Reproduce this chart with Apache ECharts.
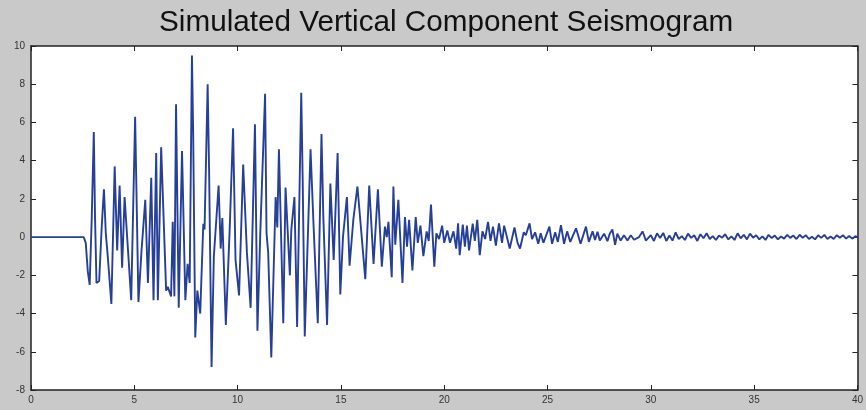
<!DOCTYPE html>
<html>
<head>
<meta charset="utf-8">
<script src="https://cdn.jsdelivr.net/npm/echarts@6/dist/echarts.min.js"></script>
<style>
  html, body { margin: 0; padding: 0; background: #c9c9c9; }
  #main { width: 866px; height: 410px; }
</style>
</head>
<body>
<div id="main"></div>
<script>
// seismogram: time (s) and amplitude at each turning point
const times = [
  0, 2.55, 2.65, 2.75, 2.84, 2.94, 3.04, 3.1, 3.17, 3.3, 3.42, 3.53, 3.62, 3.7, 3.89,
  4.05, 4.17, 4.29, 4.41, 4.53, 4.85, 5.04, 5.2, 5.35, 5.53, 5.66, 5.82, 5.93, 6.06, 6.14,
  6.3, 6.54, 6.62, 6.78, 6.86, 6.94, 7.02, 7.15, 7.31, 7.47, 7.58, 7.68, 7.79, 7.85, 7.95,
  8.05, 8.19, 8.34, 8.4, 8.55, 8.62, 8.74, 8.85, 9.08, 9.18, 9.26, 9.43, 9.62, 9.78, 9.9,
  10.07, 10.27, 10.45, 10.63, 10.84, 10.96, 11.1, 11.33, 11.4, 11.48, 11.63, 11.84, 11.92, 12.0, 12.21,
  12.32, 12.53, 12.6, 12.75, 12.88, 13.08, 13.15, 13.25, 13.53, 13.68, 13.88, 14.06, 14.15, 14.33, 14.49,
  14.65, 14.84, 14.97, 15.1, 15.29, 15.42, 15.6, 15.8, 16.18, 16.37, 16.58, 16.79, 16.98, 17.13, 17.22,
  17.3, 17.46, 17.54, 17.63, 17.78, 17.98, 18.1, 18.2, 18.3, 18.46, 18.62, 18.72, 18.85, 18.99, 19.15,
  19.25, 19.36, 19.52, 19.62, 19.75, 19.9, 20.0, 20.15, 20.28, 20.45, 20.58, 20.67, 20.75, 20.9, 21.0,
  21.1, 21.2, 21.38, 21.48, 21.6, 21.72, 21.85, 21.98, 22.12, 22.24, 22.36, 22.5, 22.65, 22.8, 22.9,
  23.17, 23.4, 23.55, 23.67, 23.85, 23.95, 24.13, 24.25, 24.4, 24.55, 24.67, 24.8, 25.09, 25.22, 25.37,
  25.5, 25.65, 25.8, 25.95, 26.1, 26.38, 26.6, 26.86, 27.0, 27.18, 27.3, 27.42, 27.53, 27.74, 27.9,
  28.01, 28.14, 28.27, 28.38, 28.54, 28.7, 28.87, 29.03, 29.19, 29.43, 29.6, 29.76, 30.0, 30.15, 30.3,
  30.45, 30.6, 30.75, 30.9, 31.05, 31.2, 31.35, 31.5, 31.65, 31.8, 31.95, 32.1, 32.25, 32.4, 32.55,
  32.7, 32.85, 33.0, 33.15, 33.3, 33.45, 33.6, 33.75, 33.9, 34.05, 34.2, 34.35, 34.5, 34.65, 34.8,
  34.95, 35.1, 35.25, 35.4, 35.55, 35.7, 35.85, 36.0, 36.15, 36.3, 36.45, 36.6, 36.75, 36.9, 37.05,
  37.2, 37.35, 37.5, 37.65, 37.8, 37.95, 38.1, 38.25, 38.4, 38.55, 38.7, 38.85, 39.0, 39.15, 39.3,
  39.45, 39.6, 39.75, 39.9, 40
];
const amplitudes = [
  0, 0, -0.3, -1.8, -2.5, 1.0, 5.5, 1.0, -2.4, -2.3, 0.5, 2.5, 0.2, -0.8, -3.5,
  3.7, -0.7, 2.7, -1.6, 2.1, -3.3, 6.3, -3.4, -0.7, 1.95, -2.4, 3.1, -3.3, 4.4, -3.3,
  4.7, -2.8, -2.6, -3.1, 0.8, -3.1, 6.95, -3.7, 4.5, -3.3, -1.4, -2.4, 9.5, 5.4, -5.25,
  -2.8, -4.0, 0.7, 0.4, 8.0, 3.5, -6.8, -1.0, 2.7, -0.6, 1.0, -4.6, 0.5, 5.7, -1.2,
  -3.05, 3.8, -0.8, -3.7, 5.9, -4.9, 0.3, 7.5, 0.2, -0.8, -6.3, 2.1, 0.5, 4.6, -4.5,
  2.6, -2.0, 0.4, 2.1, -4.7, 7.55, 3.0, -5.2, 4.6, 0.5, -4.5, 5.4, 1.0, -4.6, 2.8,
  -1.2, 4.4, -3.0, 0.0, 2.1, -1.5, 0.9, 2.65, -2.2, 2.7, -1.4, 2.5, -1.55, 0.55, 0.0,
  0.8, -2.1, 2.65, -0.4, 1.95, -2.4, 1.05, -0.5, 0.9, -1.75, 1.05, -0.3, 0.6, -1.0, 0.3,
  -0.2, 1.7, -1.55, 0.2, -0.1, 0.6, -0.3, 0.35, -0.3, 0.3, -0.6, 0.72, -0.95, 0.65, -0.5,
  0.6, -0.7, 0.7, -0.2, 0.9, -0.95, 0.3, -0.1, 0.8, -0.2, 0.55, -0.45, 0.72, -0.3, 0.6,
  -0.6, 0.5, -0.3, -0.6, 0.25, 0.1, 0.72, -0.1, 0.25, -0.35, 0.2, -0.3, 0.55, -0.35, 0.25,
  -0.25, 0.63, -0.35, 0.3, -0.25, 0.46, -0.35, 0.55, -0.25, 0.3, -0.15, 0.28, -0.18, 0.18, -0.21,
  0.18, 0.4, -0.4, 0.18, -0.18, 0.1, -0.18, 0.1, -0.14, 0.0, 0.3, -0.18, 0.1, -0.2, 0.2,
  -0.05, 0.22, -0.2, 0.08, -0.18, 0.25, -0.1, 0.05, -0.15, 0.18, -0.04, 0.1, -0.2, 0.15, -0.06,
  0.2, -0.1, 0.05, -0.15, 0.08, -0.03, 0.15, -0.12, 0.04, -0.15, 0.2, -0.06, 0.12, -0.12, 0.18,
  -0.03, 0.1, -0.12, 0.04, -0.15, 0.12, -0.05, 0.08, -0.12, 0.03, -0.08, 0.12, -0.04, 0.08, -0.1,
  0.12, -0.03, 0.1, -0.1, 0.02, -0.12, 0.1, -0.04, 0.12, -0.1, 0.03, -0.1, 0.1, -0.03, 0.1,
  -0.08, 0.06, -0.08, 0.05, 0
];
const xTicks = [0, 5, 10, 15, 20, 25, 30, 35, 40];
const yTicks = [-8, -6, -4, -2, 0, 2, 4, 6, 8, 10];

let chart = echarts.init(document.getElementById('main'));

const tickLabel = { color: '#333', fontSize: 10, fontFamily: 'Liberation Sans' };
const axisLine = { show: true, onZero: false, lineStyle: { color: '#222', width: 1.5 } };
const axisTick = { inside: true, length: 5, lineStyle: { color: '#222' } };

let option = {
    backgroundColor: '#c9c9c9',
    animation: false,
    title: {
        text: 'Simulated Vertical Component Seismogram',
        left: 154,
        top: 3,
        textStyle: { color: '#111', fontSize: 29.7, fontWeight: 'normal', fontFamily: 'Liberation Sans' }
    },
    grid: { left: 31, right: 5, top: 46, bottom: 20, backgroundColor: '#fff', show: true, borderWidth: 0 },
    xAxis: [
        {
            type: 'value', min: 0, max: 40, interval: 5,
            axisLine: axisLine,
            axisTick: axisTick,
            axisLabel: Object.assign({ margin: 5, showMaxLabel: true, formatter: v => xTicks.includes(v) ? String(v) : '' }, tickLabel),
            splitLine: { show: false }
        },
        {
            type: 'value', min: 0, max: 40, interval: 5, position: 'top',
            axisLine: axisLine,
            axisTick: axisTick,
            axisLabel: { show: false },
            splitLine: { show: false }
        }
    ],
    yAxis: [
        {
            type: 'value', min: -8, max: 10, interval: 2,
            axisLine: axisLine,
            axisTick: axisTick,
            axisLabel: Object.assign({ margin: 6, formatter: v => yTicks.includes(v) ? String(v) : '' }, tickLabel),
            splitLine: { show: false }
        },
        {
            type: 'value', min: -8, max: 10, interval: 2, position: 'right',
            axisLine: axisLine,
            axisTick: axisTick,
            axisLabel: { show: false },
            splitLine: { show: false }
        }
    ],
    series: [
        {
            type: 'line',
            data: times.map((t, i) => [t, amplitudes[i]]),
            showSymbol: false,
            lineStyle: { color: '#26409a', width: 1.9 }
        }
    ]
};
chart.setOption(option);
</script>
</body>
</html>
